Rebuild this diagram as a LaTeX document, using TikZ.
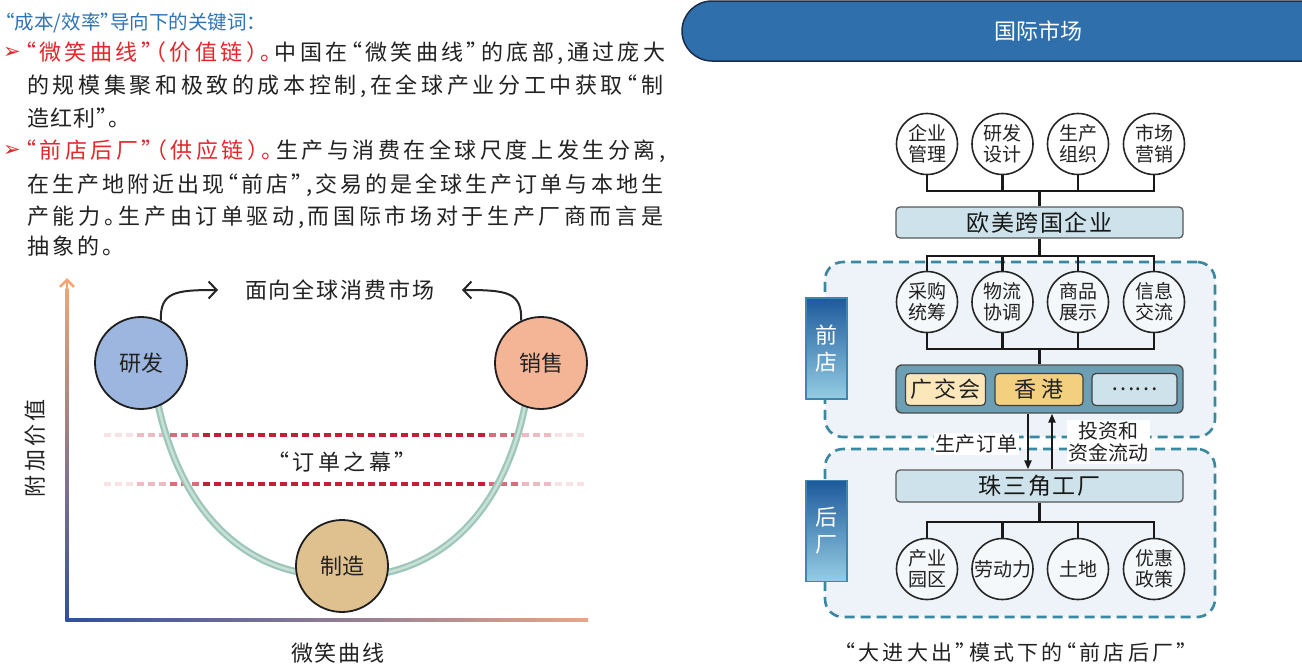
\documentclass[tikz,border=0pt]{standalone}
\usepackage{fontspec}
\setmainfont{Noto Sans CJK SC}
\newfontfamily\haltfont{Noto Sans CJK SC}[RawFeature=+halt]
\newfontfamily\dingfont{DejaVu Sans}
\usetikzlibrary{arrows.meta}
% spread characters: \spr text\relax puts stretchable glue between every two characters
\def\spr#1{#1\sprx}
\def\sprx#1{\ifx\relax#1\else\hskip0pt plus 1fil#1\expandafter\sprx\fi}
\newcommand\spreadto[2]{\makebox[#1][s]{\spr#2\relax}}
\definecolor{hblue}{HTML}{2F74B5}
\definecolor{kred}{HTML}{E3262B}
\definecolor{textc}{HTML}{222222}
\definecolor{rdfill}{HTML}{9DB6DF}
\definecolor{salefill}{HTML}{F4B496}
\definecolor{makefill}{HTML}{DEC18F}
\definecolor{axtop}{HTML}{F2A472}
\definecolor{axmid}{HTML}{A857B3}
\definecolor{axbot}{HTML}{2F4FA0}
\definecolor{axright}{HTML}{E8A688}
\definecolor{curtainc}{HTML}{C41F36}
\definecolor{uouter}{HTML}{9CC6BC}
\definecolor{uinner}{HTML}{C9E0D4}
\definecolor{bannerc}{HTML}{2E6FAC}
\definecolor{bannerline}{HTML}{1B2D48}
\definecolor{boxc}{HTML}{CDE2EA}
\definecolor{regionc}{HTML}{EDF3F9}
\definecolor{dashc}{HTML}{3A88A0}
\definecolor{contc}{HTML}{6C9FB4}
\definecolor{yellowa}{HTML}{FBE7BA}
\definecolor{yellowb}{HTML}{F3D07F}
\definecolor{tabtop}{HTML}{1E5A9C}
\definecolor{tabbot}{HTML}{95CDE3}
\definecolor{tabedge}{HTML}{3F86AE}
\definecolor{circin}{HTML}{F5F8FB}
\tikzset{
  body/.style={inner sep=0pt, anchor=west, text=textc, font=\haltfont\fontsize{22}{26}\selectfont},
  bulletmark/.style={inner sep=0pt, text=kred, font=\dingfont\fontsize{21}{24}\selectfont},
  ctext/.style={inner sep=0pt, text=textc, font=\fontsize{22}{26}\selectfont},
  chartc/.style={circle, draw=black!88, line width=1.8pt, minimum size=92pt, inner sep=0pt, text=textc, font=\fontsize{22}{26}\selectfont},
  uband/.style={line width=7pt, draw=uouter},
  ubandin/.style={line width=2.6pt, draw=uinner},
  reddash/.style={line width=3.2pt, draw=curtainc, dash pattern=on 7pt off 4pt},
  curvarrow/.style={line width=2pt, draw=black!85, -{Straight Barb[length=8pt,width=17pt]}},
  bannerbox/.style={rectangle, rounded corners=30pt, draw=bannerline, line width=1.5pt, fill=bannerc, minimum width=712pt, minimum height=60pt, text=white, font=\fontsize{22}{26}\selectfont},
  regionbox/.style={rectangle, rounded corners=18pt, draw=dashc, line width=2.6pt, dash pattern=on 10pt off 6pt, fill=regionc, inner sep=0pt},
  tabbox/.style={rectangle, draw=tabedge, line width=1.5pt, top color=tabtop, bottom color=tabbot, minimum width=41pt, minimum height=101pt, inner sep=0pt, text=white, align=center, font=\fontsize{22}{27}\selectfont},
  rcirc/.style={circle, draw=black!85, line width=1.6pt, minimum size=61pt, inner sep=0pt, align=center, text=textc, fill=#1, font=\fontsize{19}{21}\selectfont},
  rcirc/.default=white,
  wbox/.style={rectangle, rounded corners=4pt, draw=black!65, line width=1.3pt, fill=boxc, minimum width=287pt, minimum height=31pt, inner sep=0pt, text=black!90, font=\fontsize{23}{26}\selectfont},
  ibox/.style={rectangle, rounded corners=4pt, draw=black!75, line width=1.2pt, minimum height=32pt, inner sep=0pt, text=textc, font=\fontsize{22}{26}\selectfont},
  conn/.style={line width=2.2pt, draw=black!90},
  flow/.style={line width=2.2pt, draw=black!90, -{Triangle[length=9pt,width=7pt]}},
  lbl/.style={fill=white, inner sep=1.5pt, align=center, text=textc, font=\fontsize{20}{22}\selectfont}
}
\begin{document}
\begin{tikzpicture}[x=1pt,y=-1pt]
\useasboundingbox (0,0) rectangle (1302,672);
\fill[white] (0,0) rectangle (1302,672);

% ---------- left text ----------
\node[inner sep=0pt, anchor=west, text=hblue, font=\haltfont\fontsize{19.5}{23}\selectfont] (head) at (5,23) {“成本/效率”导向下的关键词：};
\node[bulletmark] (bul1) at (12,53) {➢};
\node[body] (l2) at (25,53) {\makebox[640pt][s]{\textcolor{kred}{\spr “微笑曲线”（价值链）。\relax}\hskip0pt plus 1fil\spr 中国在“微笑曲线”的底部,通过庞大\relax}};
\node[body] (l3) at (27,86) {\spreadto{636pt}{的规模集聚和极致的成本控制,在全球产业分工中获取“制}};
\node[body] (l4) at (27,118) {\spreadto{92pt}{造红利”。}};
\node[bulletmark] (bul2) at (12,151) {➢};
\node[body] (l5) at (25,151) {\makebox[640pt][s]{\textcolor{kred}{\spr “前店后厂”（供应链）。\relax}\hskip0pt plus 1fil\spr 生产与消费在全球尺度上发生分离,\relax}};
\node[body] (l6) at (27,185) {\spreadto{636pt}{在生产地附近出现“前店”,交易的是全球生产订单与本地生}};
\node[body] (l7) at (27,217) {\spreadto{636pt}{产能力。生产由订单驱动,而国际市场对于生产厂商而言是}};
\node[body] (l8) at (27,246) {\spreadto{86pt}{抽象的。}};

% ---------- smile curve chart ----------
\coordinate (yaxtop) at (67,278);
\shade[top color=axtop, middle color=axmid, bottom color=axbot] (65.6,288) rectangle (68.4,621.4);
\draw[line width=2.6pt, draw=axtop, -{Straight Barb[length=7pt,width=14pt]}] (67,292) -- (yaxtop);
\shade[left color=axbot, right color=axright] (65.6,618.6) rectangle (588,621.4);

\foreach \a/\b/\o in {104/137/0.12,137/170/0.3,170/203/0.65,203/489/1,489/522/0.65,522/555/0.3,555/588/0.12}{
  \draw[reddash, draw opacity=\o] (\a,435) -- (\b,435);
  \draw[reddash, draw opacity=\o] (\a,484) -- (\b,484);
}

\coordinate (rdc) at (141,363);
\coordinate (salec) at (541,363);
\coordinate (mkc) at (342,566);
\draw[uband] ([shift={(-82:46)}]rdc) .. controls (155,500) and (235,558) .. ([shift={(173:46)}]mkc);
\draw[ubandin] ([shift={(-82:46)}]rdc) .. controls (155,500) and (235,558) .. ([shift={(173:46)}]mkc);
\draw[uband] ([shift={(8:46)}]mkc) .. controls (450,558) and (530,500) .. ([shift={(-98:46)}]salec);
\draw[ubandin] ([shift={(8:46)}]mkc) .. controls (450,558) and (530,500) .. ([shift={(-98:46)}]salec);

\node[chartc, fill=rdfill] (rd) at (rdc) {研发};
\node[chartc, fill=salefill] (sale) at (salec) {销售};
\node[chartc, fill=makefill] (mk) at (mkc) {制造};

\coordinate (ar1) at (218,290);
\coordinate (ar2) at (462,290);
\draw[curvarrow] (rd.65) .. controls (160,292) and (175,290) .. (ar1);
\draw[curvarrow] (sale.115) .. controls (522,292) and (507,290) .. (ar2);

\node[ctext] (mkt) at (340,290) {\spreadto{190pt}{面向全球消费市场}};
\node[ctext, font=\haltfont\fontsize{22}{26}\selectfont] (curtain) at (342,462) {\spreadto{128pt}{“订单之幕”}};
\node[ctext, rotate=90] (yl) at (35,448) {\spreadto{98pt}{附加价值}};
\node[ctext] (xl) at (338,653) {\spreadto{94pt}{微笑曲线}};

% ---------- right diagram ----------
\begin{scope}
\clip (0,0) rectangle (1302,672);
\node[bannerbox] (intl) at (1038,31) {国际市场};
\end{scope}

\node[regionbox, minimum width=390pt, minimum height=175pt] (front) at (1020,349.5) {};
\node[regionbox, minimum width=390pt, minimum height=168pt] (back) at (1020,533) {};
\node[tabbox] (tabf) at (826.5,348.5) {前\\店};
\node[tabbox] (tabb) at (826.5,531) {后\\厂};

\node[rcirc] (c1) at (927,144) {企业\\管理};
\node[rcirc] (c2) at (1002.5,144) {研发\\设计};
\node[rcirc] (c3) at (1078,144) {生产\\组织};
\node[rcirc] (c4) at (1154,144) {市场\\营销};

\node[wbox] (mnc) at (1039.5,222.5) {\spreadto{146pt}{欧美跨国企业}};

\node[rcirc=circin] (m1) at (927,302) {采购\\统筹};
\node[rcirc=circin] (m2) at (1002.5,302) {物流\\协调};
\node[rcirc=circin] (m3) at (1078,302) {商品\\展示};
\node[rcirc=circin] (m4) at (1154,302) {信息\\交流};

\node[rectangle, rounded corners=6pt, draw=black!70, line width=1.4pt, fill=contc, minimum width=287pt, minimum height=48pt, inner sep=0pt] (cont) at (1039.5,389) {};
\node[ibox, fill=yellowa, minimum width=80pt] (gjh) at (945.5,389.5) {\spreadto{70pt}{广交会}};
\node[ibox, fill=yellowb, minimum width=88pt] (hk) at (1039,389.5) {\spreadto{50pt}{香港}};
\node[ibox, fill=boxc, minimum width=85pt] (more) at (1134.5,389.5) {……};

\node[wbox, minimum height=32pt] (zsj) at (1039.5,486) {\spreadto{122pt}{珠三角工厂}};

\node[rcirc=circin] (f1) at (927,569) {产业\\园区};
\node[rcirc=circin] (f2) at (1002.5,569) {劳动力};
\node[rcirc=circin] (f3) at (1078,569) {土地};
\node[rcirc=circin] (f4) at (1154,569) {优惠\\政策};

\coordinate (busA) at (1039.5,191);
\coordinate (busB) at (1039.5,256);
\coordinate (busC) at (1039.5,349);
\coordinate (busD) at (1039.5,522);

\draw[conn] (c1.south) |- (busA);
\draw[conn] (c4.south) |- (busA);
\draw[conn] (c2.south) -- (c2.south |- busA);
\draw[conn] (c3.south) -- (c3.south |- busA);
\draw[conn] (busA) -- (mnc.north);

\draw[conn] (mnc.south) -- (busB);
\draw[conn] (m1.north) |- (busB);
\draw[conn] (m4.north) |- (busB);
\draw[conn] (m2.north) -- (m2.north |- busB);
\draw[conn] (m3.north) -- (m3.north |- busB);

\draw[conn] (m1.south) |- (busC);
\draw[conn] (m4.south) |- (busC);
\draw[conn] (m2.south) -- (m2.south |- busC);
\draw[conn] (m3.south) -- (m3.south |- busC);
\draw[conn] (busC) -- (cont.north);

\draw[conn] (zsj.south) -- (busD);
\draw[conn] (f1.north) |- (busD);
\draw[conn] (f4.north) |- (busD);
\draw[conn] (f2.north) -- (f2.north |- busD);
\draw[conn] (f3.north) -- (f3.north |- busD);

\node[lbl] (po) at (976,444) {\spreadto{82pt}{生产订单}};
\node[lbl] (inv) at (1108,442) {投资和\\资金流动};
\draw[flow] ([xshift=-11.5pt]cont.south) -- ([xshift=-11.5pt]zsj.north);
\draw[flow] ([xshift=12.5pt]zsj.north) -- ([xshift=12.5pt]cont.south);

\node[ctext, font=\haltfont\fontsize{21}{24}\selectfont] (cap) at (1016,652) {\spreadto{342pt}{“大进大出”模式下的“前店后厂”}};
\end{tikzpicture}
\end{document}
